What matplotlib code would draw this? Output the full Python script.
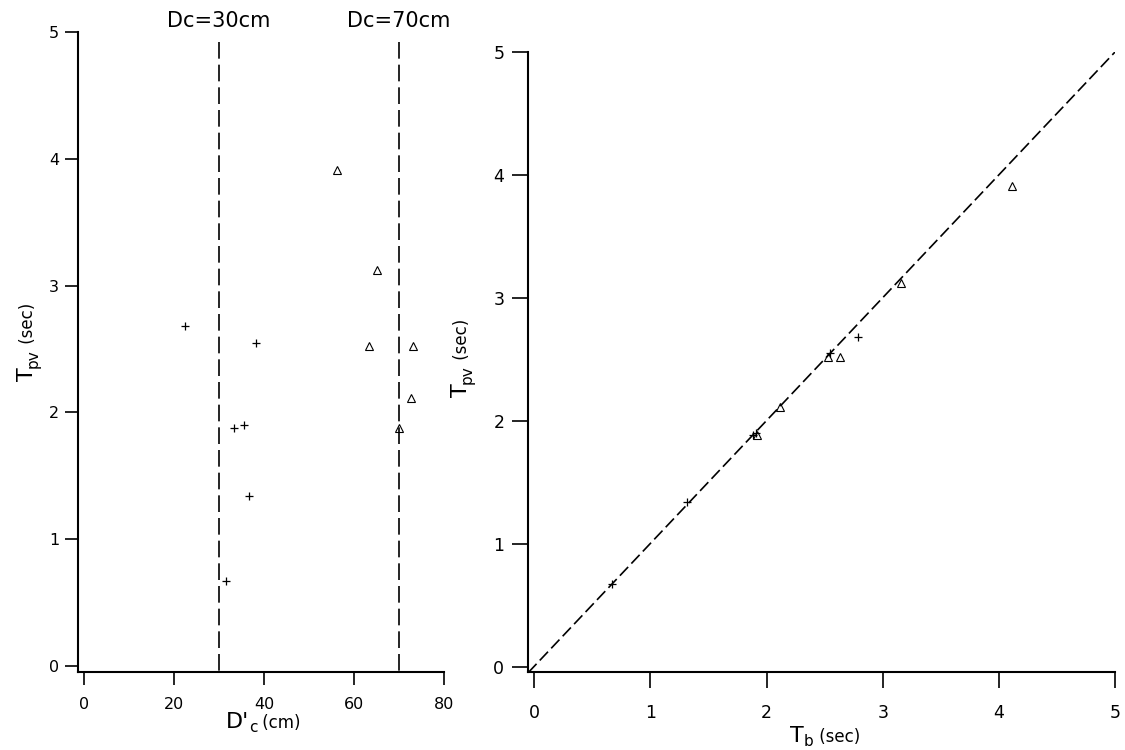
import matplotlib
matplotlib.use('Agg')
import matplotlib.pyplot as plt
from matplotlib.transforms import IdentityTransform, blended_transform_factory

plt.rcParams['font.family'] = ['DejaVu Sans']

# ---- data ----
dc_plus = [22.5, 38.2, 33.3, 35.5, 36.6, 31.6]
tpv_plus = [2.68, 2.55, 1.88, 1.90, 1.34, 0.67]
tb_plus = [2.79, 2.55, 1.88, 1.91, 1.32, 0.67]

dc_tri = [56.2, 65.2, 63.4, 73.0, 72.7, 70.0]
tpv_tri = [3.91, 3.12, 2.52, 2.52, 2.11, 1.88]
tb_tri = [4.11, 3.16, 2.53, 2.63, 2.12, 1.92]

dc_lines = [30, 70]
dc_line_labels = ['Dc=30cm', 'Dc=70cm']

left_xticks = [0, 20, 40, 60, 80]
left_yticks = [0, 1, 2, 3, 4, 5]
right_xticks = [0, 1, 2, 3, 4, 5]
right_yticks = [0, 1, 2, 3, 4, 5]

W, H = 1125, 750
fig = plt.figure(figsize=(W / 100, H / 100), dpi=100)

axL = fig.add_axes([78.3 / W, 1 - 671.7 / H, (444 - 78.3) / W, (671.7 - 32.3) / H])
axL.set_xlim(-1.27, 80)
axL.set_ylim(-0.047, 5)

axR = fig.add_axes([528.3 / W, 1 - 672.3 / H, (1115.3 - 528.3) / W, (672.3 - 51.7) / H])
axR.set_xlim(-0.049, 5)
axR.set_ylim(-0.047, 5)

for ax in (axL, axR):
    ax.patch.set_visible(False)
    for s in ('top', 'right'):
        ax.spines[s].set_visible(False)
    for s in ('left', 'bottom'):
        ax.spines[s].set_linewidth(1.5)

axL.set_xticks(left_xticks)
axL.set_yticks(left_yticks)
axL.tick_params(axis='both', direction='out', length=9.4, width=1.2, labelsize=11.5)
axL.tick_params(axis='x', pad=8.5)
axL.tick_params(axis='y', pad=4.3)

axR.set_xticks(right_xticks)
axR.set_yticks(right_yticks)
axR.tick_params(axis='both', direction='out', length=11.3, width=1.2, labelsize=12.5)
axR.tick_params(axis='x', pad=11.5)
axR.tick_params(axis='y', pad=6)

# ---- left panel ----
ylo = axL.get_ylim()[0]
for xv in dc_lines:
    axL.plot([xv, xv], [4.92, ylo], color='black', lw=1.2, ls=(0, (10, 3.6)))
axL.plot(dc_plus, tpv_plus, ls='none', marker='+', ms=6, mew=0.9, color='black', clip_on=False)
axL.plot(dc_tri, tpv_tri, ls='none', marker='^', ms=5.2, mew=0.8, mfc='none', mec='black', clip_on=False)

ttrans = blended_transform_factory(axL.transData, fig.transFigure)
for xv, lab in zip(dc_lines, dc_line_labels):
    axL.text(xv, 1 - 27.3 / H, lab, transform=ttrans, ha='center', va='baseline', fontsize=15)

# ---- right panel ----
lo = axR.get_xlim()[0]
axR.plot([lo, 5], [lo, 5], color='black', lw=1.2, ls=(0, (7.2, 2.8)))
axR.plot(tb_plus, tpv_plus, ls='none', marker='+', ms=6, mew=0.9, color='black', clip_on=False)
axR.plot(tb_tri, tpv_tri, ls='none', marker='^', ms=5.2, mew=0.8, mfc='none', mec='black', clip_on=False)

# ---- compound axis labels (big letter, subscript, smaller unit) ----
renderer = fig.canvas.get_renderer()


def compound_label(parts, x, y, rotation=0):
    """parts: (text, size, baseline drop in px); x, y: image px of baseline centre."""
    widths = []
    for s, size, _ in parts:
        t = fig.text(0, 0, s, fontsize=size, transform=IdentityTransform())
        widths.append(t.get_window_extent(renderer).width)
        t.remove()
    pos = -sum(widths) / 2
    for (s, size, drop), w in zip(parts, widths):
        if rotation == 0:
            px, py = x + pos, (H - y) - drop
        else:
            px, py = x + drop, (H - y) + pos
        fig.text(px, py, s, fontsize=size, rotation=rotation, rotation_mode='anchor',
                 ha='left', va='baseline', transform=IdentityTransform())
        pos += w


compound_label([("D'", 16, 0), ('c', 11, 4.5), (' (cm)', 12, 0)], 263, 728)
compound_label([('T', 16, 0), ('b', 11, 4.5), (' (sec)', 12, 0)], 825, 742)
compound_label([('T', 16, 0), ('pv', 11, 4.5), (' (sec)', 12, 0)], 33, 342, rotation=90)
compound_label([('T', 16, 0), ('pv', 11, 4.5), (' (sec)', 12, 0)], 467, 358, rotation=90)

fig.savefig('out.png', dpi=100)
